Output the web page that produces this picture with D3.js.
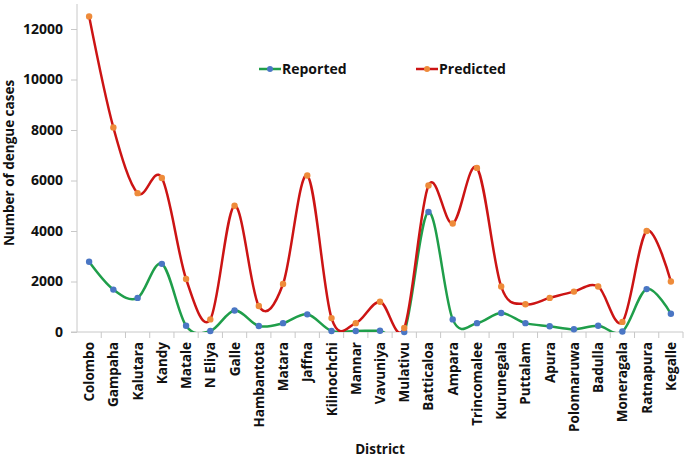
<!DOCTYPE html>
<html>
<head>
<meta charset="utf-8">
<title>Dengue cases by district</title>
<script src="https://cdn.jsdelivr.net/npm/d3@7"></script>
<style>
  body { margin: 0; background: #fff; }
  text { font-family: "Open Sans", "Liberation Sans", sans-serif; font-weight: bold; fill: #111; }
</style>
</head>
<body>
<div id="chart"></div>
<script>
// data
var districts = ["Colombo", "Gampaha", "Kalutara", "Kandy", "Matale", "N Eliya", "Galle",
  "Hambantota", "Matara", "Jaffna", "Kilinochchi", "Mannar", "Vavuniya", "Mulativu",
  "Batticaloa", "Ampara", "Trincomalee", "Kurunegala", "Puttalam", "Apura",
  "Polonnaruwa", "Badulla", "Moneragala", "Ratnapura", "Kegalle"];
var reported = [2780, 1680, 1350, 2700, 250, 40, 850, 240, 350, 700, 40, 40, 50, 0,
  4750, 500, 350, 750, 350, 230, 110, 250, 20, 1700, 720];
var predicted = [12500, 8100, 5500, 6100, 2100, 500, 5000, 1030, 1900, 6200, 550, 350, 1200, 160,
  5800, 4300, 6500, 1800, 1100, 1350, 1600, 1800, 400, 4000, 2000];
var yTicks = [0, 2000, 4000, 6000, 8000, 10000, 12000];

var width = 685, height = 459;
var margin = {top: 4, right: 2, bottom: 127, left: 77};
var plotW = width - margin.left - margin.right;
var plotH = height - margin.top - margin.bottom;

var svg = d3.select("#chart").append("svg")
  .attr("width", width)
  .attr("height", height);

var g = svg.append("g")
  .attr("transform", `translate(${margin.left},${margin.top})`);

var x = d3.scaleBand().domain(districts).range([0, plotW]);
var y = d3.scaleLinear().domain([0, 12000 * 328 / 303]).range([plotH, 0]);
// 12000 sits a little under the top of the plot area
y.domain([0, 12000 * plotH / (plotH - 25)]);

var cx = d => x(d) + x.bandwidth() / 2;

// y axis
var yAxis = g.append("g")
  .call(d3.axisLeft(y).tickValues(yTicks).tickSize(6).tickPadding(8).tickFormat(d3.format("d")));
yAxis.select(".domain").attr("d", `M0,0V${plotH}`);
yAxis.selectAll("line, .domain").attr("stroke", "#c8c8c8");
yAxis.selectAll("text").style("font-size", "14px").style("font-family", "Open Sans").style("font-weight", "bold");

// x axis with ticks between categories
g.append("line")
  .attr("x1", -6).attr("x2", plotW)
  .attr("y1", plotH).attr("y2", plotH)
  .attr("stroke", "#c8c8c8");
g.selectAll(".xtick")
  .data(districts.slice(1).concat(["end"]))
  .enter().append("line")
  .attr("class", "xtick")
  .attr("x1", (d, i) => x.step() * (i + 1)).attr("x2", (d, i) => x.step() * (i + 1))
  .attr("y1", plotH).attr("y2", plotH + 6)
  .attr("stroke", "#c8c8c8");
g.selectAll(".xlabel")
  .data(districts)
  .enter().append("text")
  .attr("class", "xlabel")
  .attr("transform", d => `translate(${cx(d) + 5},${plotH + 10}) rotate(-90)`)
  .attr("text-anchor", "end")
  .style("font-size", "13.5px")
  .text(d => d);

// axis titles
svg.append("text")
  .attr("transform", `translate(14,${margin.top + plotH / 2 - 5}) rotate(-90)`)
  .attr("text-anchor", "middle")
  .style("font-size", "13.5px")
  .text("Number of dengue cases");
svg.append("text")
  .attr("x", 380).attr("y", 454)
  .attr("text-anchor", "middle")
  .style("font-size", "13.5px")
  .text("District");

// clip lines to plot area
svg.append("defs").append("clipPath").attr("id", "plotclip")
  .append("rect").attr("x", 0).attr("y", -10).attr("width", plotW).attr("height", plotH + 10);

var line = d3.line()
  .x((d, i) => cx(districts[i]))
  .y(d => y(d))
  .curve(d3.curveCardinal.tension(0));

var series = [
  {name: "Reported", values: reported, stroke: "#1f9e4a", dot: "#4a76c4"},
  {name: "Predicted", values: predicted, stroke: "#cc1414", dot: "#ee8b3a"}
];

series.forEach(function(s) {
  g.append("path")
    .datum(s.values)
    .attr("clip-path", "url(#plotclip)")
    .attr("fill", "none")
    .attr("stroke", s.stroke)
    .attr("stroke-width", 2.5)
    .attr("d", line);
});
series.forEach(function(s) {
  g.selectAll(null)
    .data(s.values)
    .enter().append("circle")
    .attr("cx", (d, i) => cx(districts[i]))
    .attr("cy", d => y(d))
    .attr("r", 3.2)
    .attr("fill", s.dot);
});

// legend
var legend = svg.selectAll(".legend")
  .data(series)
  .enter().append("g")
  .attr("class", "legend")
  .attr("transform", (d, i) => `translate(${259 + i * 157},69)`);
legend.append("line")
  .attr("x1", 0).attr("x2", 22)
  .attr("stroke", d => d.stroke)
  .attr("stroke-width", 2.5);
legend.append("circle")
  .attr("cx", 11).attr("r", 3)
  .attr("fill", d => d.dot);
legend.append("text")
  .attr("x", 23).attr("y", 5)
  .style("font-size", "14px")
  .text(d => d.name);
</script>
</body>
</html>
